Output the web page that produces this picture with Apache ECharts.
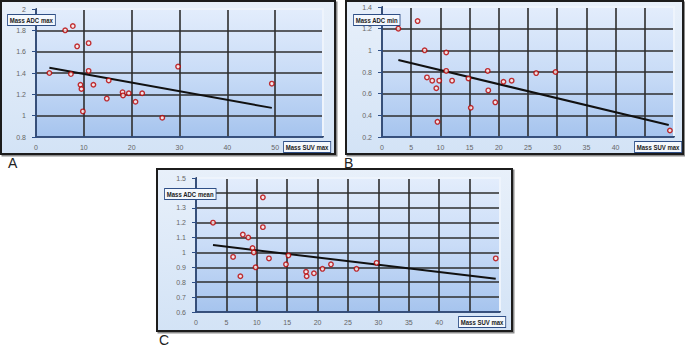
<!DOCTYPE html>
<html>
<head>
<meta charset="utf-8">
<script src="https://cdn.jsdelivr.net/npm/echarts@6/dist/echarts.min.js"></script>
<style>
  html, body { margin: 0; padding: 0; background: #fff; }
  #chart { width: 685px; height: 347px; }
</style>
</head>
<body>
<div id="chart"></div>
<script>
// SUV max per patient (x, shared by all three panels)
const suvMax = [2.8, 6.1, 7.3, 7.7, 8.6, 9.3, 9.5, 9.8, 11.0, 11.0, 12.0, 14.8, 15.2, 18.1, 18.2, 19.4, 20.8, 22.2, 26.4, 29.7, 49.3];

// ADC values (same order as suvMax)
const adcMax  = [1.40, 1.80, 1.39, 1.84, 1.65, 1.29, 1.25, 1.04, 1.68, 1.42, 1.29, 1.16, 1.33, 1.22, 1.19, 1.21, 1.13, 1.21, 0.98, 1.46, 1.30];
const adcMin  = [1.20, 1.27, 1.00, 0.75, 0.72, 0.65, 0.34, 0.72, 0.98, 0.81, 0.72, 0.74, 0.47, 0.81, 0.63, 0.52, 0.71, 0.72, 0.79, 0.80, 0.26];
const adcMean = [1.20, 0.97, 0.84, 1.12, 1.10, 1.03, 1.00, 0.90, 1.37, 1.17, 0.96, 0.92, 0.98, 0.87, 0.84, 0.86, 0.89, 0.92, 0.89, 0.93, 0.96];

// trend line end points [x, y] as drawn
const trendMax  = [[2.8, 1.45], [49.3, 1.073]];
const trendMin  = [[2.8, 0.91], [49.1, 0.311]];
const trendMean = [[2.8, 1.05], [49.3, 0.823]];

const panels = [
  { letter: 'A', yName: 'Mass ADC max',  adc: adcMax,  trend: trendMax,
    frame: [1, 1, 334, 153], grid: { left: 36, top: 9, width: 287, height: 128 },
    xMax: 60, xStep: 10, xLast: 50, yMin: 0.8, yMax: 2, yStep: 0.2,
    yBox: [8, 15], xBox: [284, 142], label: [8, 156] },
  { letter: 'B', yName: 'Mass ADC min',  adc: adcMin,  trend: trendMin,
    frame: [346, 1, 337, 153], grid: { left: 382, top: 7, width: 292, height: 130 },
    xMax: 50, xStep: 5, xLast: 40, yMin: 0.2, yMax: 1.4, yStep: 0.2,
    yBox: [354, 15], xBox: [635, 142], label: [344, 156] },
  { letter: 'C', yName: 'Mass ADC mean', adc: adcMean, trend: trendMean,
    frame: [157, 169, 355, 162], grid: { left: 196, top: 178, width: 304, height: 134 },
    xMax: 50, xStep: 5, xLast: 40, yMin: 0.6, yMax: 1.5, yStep: 0.1,
    yBox: [165, 189], xBox: [459, 317], label: [159, 333] }
];

const plotFill = new echarts.graphic.LinearGradient(0, 0, 0, 1, [
  { offset: 0, color: '#e3edfc' },
  { offset: 0.5, color: '#c9dcf7' },
  { offset: 1, color: '#a6c4ee' }
]);
const frameFill = new echarts.graphic.LinearGradient(0, 0, 0, 1, [
  { offset: 0, color: '#e8f0fa' },
  { offset: 1, color: '#d3e3f6' }
]);

const gridLine = { color: '#2e2e2e', width: 1.6 };
const boxStyle = {
  fontSize: 7, fontWeight: 'bold', fontFamily: 'Liberation Sans, sans-serif',
  fill: '#222', backgroundColor: '#f4f8fd', borderColor: '#2f4f86', borderWidth: 1, padding: [2, 2, 1, 2]
};

const grids = [], xAxes = [], yAxes = [], series = [], graphics = [];

panels.forEach((p, i) => {
  grids.push(Object.assign({ show: false }, p.grid));

  xAxes.push({
    gridIndex: i, type: 'value', min: 0, max: p.xMax, interval: p.xStep,
    axisLine: { show: true, lineStyle: { color: '#2f4f86', width: 1.5 } },
    axisTick: { show: false },
    axisLabel: { color: '#666', fontSize: 7, margin: 7, fontFamily: 'Liberation Sans',
      formatter: v => v > p.xLast ? '' : String(v) },
    splitLine: { show: true, lineStyle: gridLine }
  });

  yAxes.push({
    gridIndex: i, type: 'value', min: p.yMin, max: p.yMax, interval: p.yStep,
    axisLine: { show: true, onZero: false, lineStyle: { color: '#2f4f86', width: 1.5 } },
    axisTick: { show: true, length: 4, lineStyle: { color: '#2f4f86' } },
    axisLabel: { color: '#666', fontSize: 7, margin: 10, fontFamily: 'Liberation Sans',
      formatter: v => String(parseFloat(v.toFixed(2))) },
    splitLine: { show: true, lineStyle: gridLine }
  });

  series.push({
    type: 'line', xAxisIndex: i, yAxisIndex: i, data: p.trend,
    symbol: 'none', silent: true, z: 3,
    lineStyle: { color: '#111', width: 2 }
  });
  series.push({
    type: 'scatter', xAxisIndex: i, yAxisIndex: i, z: 4,
    data: suvMax.map((x, k) => [x, p.adc[k]]),
    symbol: 'circle', symbolSize: 4.5,
    itemStyle: { color: '#fbeaea', borderColor: '#b80000', borderWidth: 1.4 }
  });

  const [fx, fy, fw, fh] = p.frame;
  const g = p.grid;
  // outer frame
  graphics.push({
    type: 'rect', z: -10, shape: { x: fx, y: fy, width: fw, height: fh },
    style: { fill: frameFill, stroke: '#1c1c1c', lineWidth: 2,
      shadowColor: 'rgba(0,0,0,0.45)', shadowOffsetX: 1.5, shadowOffsetY: 1.5, shadowBlur: 1 }
  });
  // plot area background
  graphics.push({
    type: 'rect', z: -9, shape: { x: g.left, y: g.top, width: g.width, height: g.height },
    style: { fill: plotFill }
  });
  // light edge on top / right of plot area (covers the max split lines)
  graphics.push({
    type: 'polyline', z: 5, silent: true,
    shape: { points: [[g.left + 1, g.top], [g.left + g.width, g.top], [g.left + g.width, g.top + g.height - 1]] },
    style: { stroke: '#eef4fc', lineWidth: 2, fill: null }
  });
  graphics.push({ type: 'text', z: 50, x: p.yBox[0], y: p.yBox[1], scaleX: 0.86,
    style: Object.assign({ text: p.yName }, boxStyle) });
  graphics.push({ type: 'text', z: 50, x: p.xBox[0], y: p.xBox[1], scaleX: 0.86,
    style: Object.assign({ text: 'Mass SUV max' }, boxStyle) });
  graphics.push({ type: 'text', z: 50, x: p.label[0], y: p.label[1],
    style: { text: p.letter, fontSize: 14, fontFamily: 'Liberation Sans', fill: '#222' } });
});

const chart = echarts.init(document.getElementById('chart'), null, { renderer: 'svg' });
chart.setOption({
  animation: false,
  backgroundColor: '#fff',
  grid: grids,
  xAxis: xAxes,
  yAxis: yAxes,
  series: series,
  graphic: graphics
});
</script>
</body>
</html>
